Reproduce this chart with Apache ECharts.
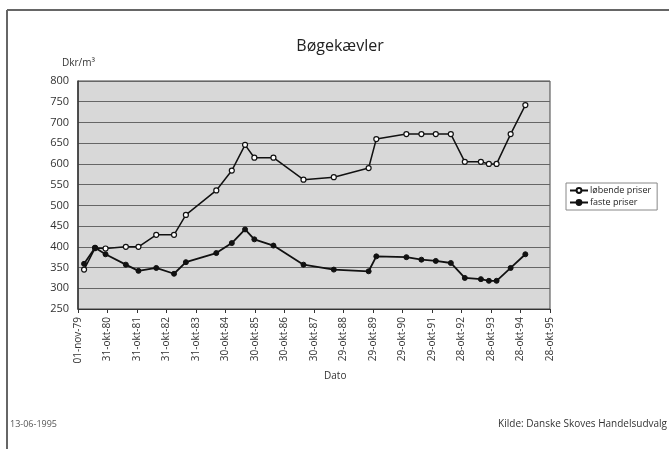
<!DOCTYPE html>
<html>
<head>
<meta charset="utf-8">
<title>Bøgekævler</title>
<script src="https://cdn.jsdelivr.net/npm/echarts@6/dist/echarts.min.js"></script>
<style>
  html, body { margin: 0; padding: 0; background: #fff; }
  #chart { width: 669px; height: 449px; }
</style>
</head>
<body>
<div id="chart"></div>
<script>
// Observation dates (auction dates) and prices in Dkr/m³
const dates = ['1980-01-15','1980-05-30','1980-10-07','1981-06-15','1981-11-18','1982-06-26',
  '1983-02-01','1983-06-28','1984-07-08','1985-01-16','1985-06-29','1985-10-22','1986-06-15',
  '1987-06-22','1988-07-01','1989-09-05','1989-12-09','1990-12-16','1991-06-20','1991-12-15',
  '1992-06-18','1992-12-08','1993-06-25','1993-10-02','1994-01-05','1994-06-28','1994-12-27'];
const lobendePriser = [345,397,396,400,400,429,429,477,536,584,646,615,615,562,568,590,660,
  672,672,672,672,605,605,600,600,672,742];
const fastePriser = [359,398,382,357,342,349,335,363,385,409,442,418,403,357,345,341,377,
  375,369,366,361,325,322,318,318,349,382];
const seriesNames = ['løbende priser', 'faste priser'];
const monthNames = ['jan','feb','mar','apr','maj','jun','jul','aug','sep','okt','nov','dec'];

// Date axis runs in days from 1 Nov 1979 with a tick every 365 days
const axisStart = Date.UTC(1979, 10, 1);
const DAY = 86400000;
const dayIndex = s => {
  const [y, m, d] = s.split('-').map(Number);
  return Math.round((Date.UTC(y, m - 1, d) - axisStart) / DAY);
};
const fmtDay = v => {
  const dt = new Date(axisStart + v * DAY);
  const dd = String(dt.getUTCDate()).padStart(2, '0');
  const yy = String(dt.getUTCFullYear() % 100).padStart(2, '0');
  return dd + '-' + monthNames[dt.getUTCMonth()] + '-' + yy;
};

const font = '"Open Sans", "DejaVu Sans", sans-serif';
const chart = echarts.init(document.getElementById('chart'), null, { renderer: 'canvas' });

chart.setOption({
  animation: false,
  backgroundColor: '#ffffff',
  textStyle: { fontFamily: font },
  title: {
    text: 'Bøgekævler',
    left: 335, top: 33, textAlign: 'center',
    textStyle: { fontSize: 16, fontWeight: 'normal', color: '#222', fontFamily: font }
  },
  legend: {
    orient: 'vertical',
    left: 566, top: 183,
    padding: [3, 6, 3, 3],
    itemGap: 3,
    itemWidth: 18, itemHeight: 6,
    backgroundColor: '#ffffff',
    borderColor: '#888', borderWidth: 1,
    textStyle: { fontSize: 9, color: '#222', fontFamily: font, padding: [0, 0, 0, -3] },
    data: seriesNames
  },
  grid: {
    left: 78, top: 81, width: 472, height: 228,
    show: true, backgroundColor: '#d8d8d8', borderColor: '#444', borderWidth: 1
  },
  xAxis: {
    type: 'value',
    min: 0, max: 16 * 365, interval: 365,
    axisLine: { lineStyle: { color: '#333', width: 1 } },
    axisTick: { show: true, length: 4, lineStyle: { color: '#333' } },
    splitLine: { show: false },
    axisLabel: {
      rotate: 90, margin: 8, fontSize: 10, color: '#333', fontFamily: font,
      formatter: fmtDay
    }
  },
  yAxis: {
    type: 'value',
    min: 250, max: 800, interval: 50,
    axisLine: { show: true, lineStyle: { color: '#333', width: 1.5 } },
    axisTick: { show: false },
    splitLine: { show: true, lineStyle: { color: '#666', width: 1 } },
    axisLabel: { fontSize: 11, color: '#333', margin: 9, fontFamily: font }
  },
  series: [
    {
      name: seriesNames[0],
      type: 'line',
      data: dates.map((d, i) => [dayIndex(d), lobendePriser[i]]),
      symbol: 'circle', symbolSize: 5, showAllSymbol: true,
      lineStyle: { color: '#111', width: 1.5 },
      itemStyle: { color: '#ffffff', borderColor: '#111', borderWidth: 1.2 }
    },
    {
      name: seriesNames[1],
      type: 'line',
      data: dates.map((d, i) => [dayIndex(d), fastePriser[i]]),
      symbol: 'circle', symbolSize: 5, showAllSymbol: true,
      lineStyle: { color: '#111', width: 1.8 },
      itemStyle: { color: '#111', borderColor: '#111', borderWidth: 1 }
    }
  ],
  graphic: [
    { type: 'line', shape: { x1: 7, y1: 10, x2: 669, y2: 10 }, style: { stroke: '#666', lineWidth: 2 } },
    { type: 'line', shape: { x1: 7, y1: 10, x2: 7, y2: 449 }, style: { stroke: '#666', lineWidth: 2 } },
    { type: 'text', left: 62, top: 58,
      style: { text: 'Dkr/m³', fontSize: 10, fill: '#333', fontFamily: font } },
    { type: 'text', left: 324, top: 371,
      style: { text: 'Dato', fontSize: 10, fill: '#333', fontFamily: font } },
    { type: 'text', left: 10, top: 420,
      style: { text: '13-06-1995', fontSize: 9, fill: '#555', fontFamily: font } },
    { type: 'text', right: 2, top: 419,
      style: { text: 'Kilde: Danske Skoves Handelsudvalg', fontSize: 10, fill: '#333', fontFamily: font } }
  ]
});
</script>
</body>
</html>
